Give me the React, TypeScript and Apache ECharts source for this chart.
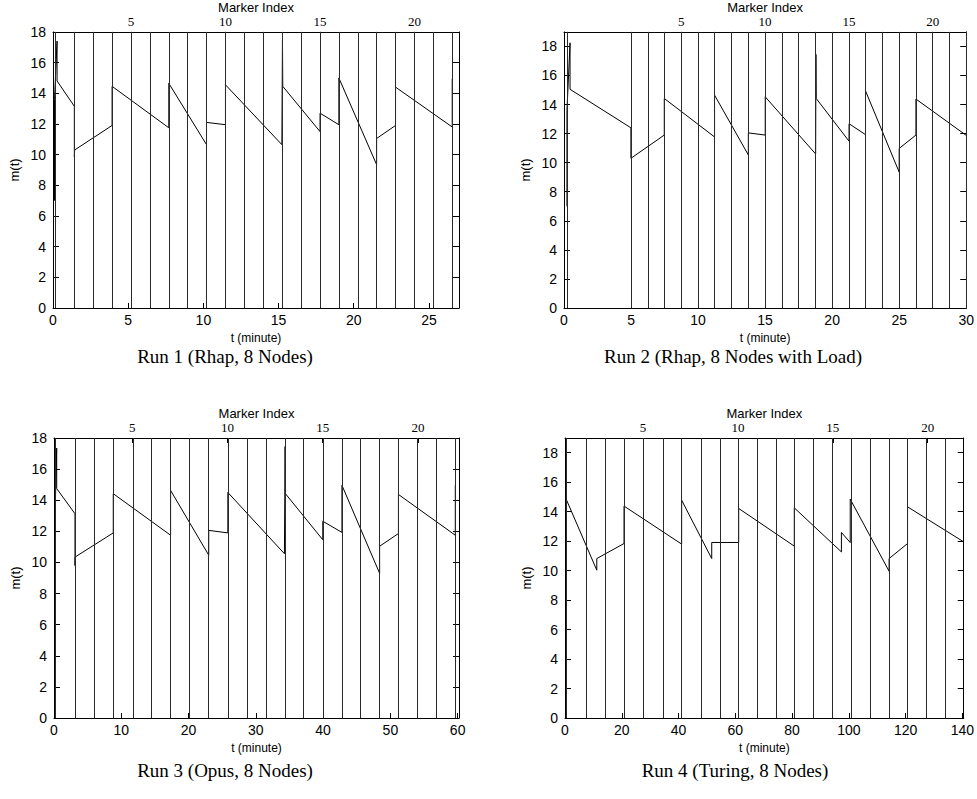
import React, { useEffect, useRef } from "react";
import * as echarts from "echarts";

// ---- Run 1 (Rhap, 8 Nodes)
const run1Time = [0.1, 0.1, 0.27, 0.27, 1.42, 1.42, 1.44, 3.93, 3.93, 7.7, 7.7, 10.21, 10.21, 11.47, 11.47, 15.22, 15.26, 15.28, 17.76, 17.76, 19.01, 19.01, 21.52, 21.52, 22.78, 22.78, 26.55, 26.55];
const run1M = [7.0, 13.6, 17.4, 14.8, 13.15, 9.85, 10.3, 11.9, 14.45, 11.75, 14.65, 10.65, 12.1, 11.95, 14.55, 10.65, 17.5, 14.45, 11.5, 12.7, 11.95, 15.0, 9.35, 11.05, 11.9, 14.4, 11.8, 14.95];
const run1Markers = [0.16, 1.42, 2.68, 3.93, 5.19, 6.44, 7.7, 8.96, 10.21, 11.47, 12.72, 13.98, 15.24, 16.5, 17.76, 19.01, 20.27, 21.52, 22.78, 24.04, 25.29, 26.55];

// ---- Run 2 (Rhap, 8 Nodes with Load)
const run2Time = [0.22, 0.22, 0.45, 0.45, 4.99, 4.99, 7.48, 7.48, 11.23, 11.23, 13.75, 13.75, 15.01, 15.01, 18.77, 18.79, 18.81, 21.26, 21.26, 22.49, 22.49, 25.0, 25.0, 26.25, 26.25, 30.0];
const run2M = [7.0, 13.6, 18.25, 15.05, 12.4, 10.3, 11.9, 14.42, 11.77, 14.65, 10.53, 12.05, 11.9, 14.53, 10.6, 17.45, 14.42, 11.48, 12.68, 11.93, 14.94, 9.35, 10.98, 11.9, 14.38, 11.88];
const run2Markers = [0.27, 4.99, 6.25, 7.48, 8.74, 10.0, 11.23, 12.49, 13.75, 15.01, 16.25, 17.5, 18.77, 20.0, 21.26, 22.49, 23.75, 25.0, 26.25, 27.5, 28.74, 30.0];

// ---- Run 3 (Opus, 8 Nodes)
const run3Time = [0.2, 0.2, 0.4, 0.4, 3.12, 3.12, 3.14, 8.81, 8.81, 17.33, 17.33, 23.0, 23.0, 25.84, 25.84, 34.25, 34.35, 34.4, 39.95, 39.95, 42.8, 42.8, 48.4, 48.4, 51.2, 51.2, 59.65, 59.65];
const run3M = [6.8, 13.8, 17.35, 14.75, 13.13, 9.8, 10.35, 11.9, 14.42, 11.75, 14.63, 10.47, 12.06, 11.9, 14.5, 10.56, 17.45, 14.42, 11.46, 12.65, 11.93, 14.96, 9.3, 11.04, 11.86, 14.37, 11.75, 14.96];
const run3Markers = [0.25, 3.12, 5.94, 8.81, 11.73, 14.5, 17.33, 20.1, 23.0, 25.84, 28.7, 31.5, 34.3, 37.1, 39.95, 42.8, 45.5, 48.4, 51.2, 54.0, 56.8, 59.65];

// ---- Run 4 (Turing, 8 Nodes)
const run4Time = [0.2, 0.2, 0.3, 11.2, 11.2, 20.8, 20.8, 41.1, 41.1, 51.7, 51.7, 61.2, 61.2, 80.8, 80.8, 97.4, 97.4, 100.5, 100.5, 114.2, 114.2, 120.7, 120.7, 140.5];
const run4M = [6.5, 18.3, 14.9, 10.03, 10.82, 11.84, 14.38, 11.8, 14.78, 10.82, 11.91, 11.91, 14.22, 11.66, 14.26, 11.27, 12.59, 11.91, 14.85, 9.96, 10.82, 11.84, 14.33, 11.95];
const run4Markers = [0.3, 7.4, 14.1, 20.8, 27.7, 34.5, 41.1, 48.0, 54.6, 61.2, 67.8, 74.4, 80.8, 87.4, 94.0, 100.7, 107.4, 114.1, 120.7, 127.4, 134.1];

// ---- tick labels
const run1XTicks = [0, 5, 10, 15, 20, 25];
const run2XTicks = [0, 5, 10, 15, 20, 25, 30];
const run3XTicks = [0, 10, 20, 30, 40, 50, 60];
const run4XTicks = [0, 20, 40, 60, 80, 100, 120, 140];
const markerTicks = [5, 10, 15, 20];
const yTicks = [0, 2, 4, 6, 8, 10, 12, 14, 16, 18];
const captions = [
  "Run 1 (Rhap, 8 Nodes)",
  "Run 2 (Rhap, 8 Nodes with Load)",
  "Run 3 (Opus, 8 Nodes)",
  "Run 4 (Turing, 8 Nodes)",
];

const runs = [
  { time: run1Time, m: run1M, markers: run1Markers, xTicks: run1XTicks, xMax: 27, yMax: 18, idx: [0.87, 22.36], grid: { left: 53, top: 29, width: 406, height: 279 }, cap: [225, 356] },
  { time: run2Time, m: run2M, markers: run2Markers, xTicks: run2XTicks, xMax: 30, yMax: 19, idx: [-2, 22], grid: { left: 564, top: 29, width: 406, height: 279 }, cap: [733, 356] },
  { time: run3Time, m: run3M, markers: run3Markers, xTicks: run3XTicks, xMax: 60.2, yMax: 18, idx: [0.9, 22.15], grid: { left: 54, top: 438, width: 405, height: 280 }, cap: [225, 770] },
  { time: run4Time, m: run4M, markers: run4Markers, xTicks: run4XTicks, xMax: 140.5, yMax: 19, idx: [0.89, 21.9], grid: { left: 565, top: 438, width: 405, height: 280 }, cap: [735, 770] },
];

const SANS = "Liberation Sans";
const SERIF = "Liberation Serif";

export default function App() {
  const ref = useRef<HTMLDivElement>(null);
  useEffect(() => {
    if (!ref.current) return;
    const chart = echarts.init(ref.current, null, { renderer: "svg" });
    const grids: any[] = [];
    const xAxes: any[] = [];
    const yAxes: any[] = [];
    const series: any[] = [];
    const graphics: any[] = [];
    const axisLine = { show: true, onZero: false, lineStyle: { color: "#000", width: 1 } };
    runs.forEach((r, i) => {
      grids.push({ ...r.grid, containLabel: false });
      xAxes.push({
        type: "value", gridIndex: i, position: "bottom", min: 0, max: r.xMax,
        axisLine, splitLine: { show: false },
        axisTick: { show: true, inside: true, length: 5, customValues: r.xTicks, lineStyle: { color: "#000" } },
        axisLabel: { customValues: r.xTicks, color: "#000", fontFamily: SANS, fontSize: 14, margin: 5 },
        name: "t (minute)", nameLocation: "middle", nameGap: 24,
        nameTextStyle: { color: "#000", fontFamily: SANS, fontSize: 12 },
      });
      xAxes.push({
        type: "value", gridIndex: i, position: "top", min: r.idx[0], max: r.idx[1],
        axisLine, splitLine: { show: false },
        axisTick: { show: true, inside: true, length: 5, customValues: markerTicks, lineStyle: { color: "#000" } },
        axisLabel: { customValues: markerTicks, color: "#000", fontFamily: SERIF, fontSize: 13, margin: 4 },
        name: "Marker Index", nameLocation: "middle", nameGap: 17,
        nameTextStyle: { color: "#000", fontFamily: SANS, fontSize: 13 },
      });
      yAxes.push({
        type: "value", gridIndex: i, position: "left", min: 0, max: r.yMax,
        axisLine, splitLine: { show: false },
        axisTick: { show: true, inside: true, length: 6, customValues: yTicks, lineStyle: { color: "#000" } },
        axisLabel: { customValues: yTicks, color: "#000", fontFamily: SANS, fontSize: 14, margin: 7 },
        name: "m(t)", nameLocation: "middle", nameGap: 32, nameRotate: 90,
        nameTextStyle: { color: "#000", fontFamily: SANS, fontSize: 13 },
      });
      yAxes.push({
        type: "value", gridIndex: i, position: "right", min: 0, max: r.yMax,
        axisLine, splitLine: { show: false },
        axisTick: { show: true, inside: true, length: 6, customValues: yTicks, lineStyle: { color: "#000" } },
        axisLabel: { show: false },
      });
      series.push({
        type: "line", xAxisIndex: 2 * i, yAxisIndex: 2 * i,
        data: r.time.map((t, k) => [t, r.m[k]]),
        showSymbol: false, symbol: "none",
        lineStyle: { color: "#000", width: 1 },
        markLine: {
          silent: true, symbol: ["none", "none"], label: { show: false },
          lineStyle: { color: "#2a2a2a", width: 1, type: "solid" },
          data: r.markers.map((t) => ({ xAxis: t })),
        },
      });
      graphics.push({
        type: "text", x: r.cap[0], y: r.cap[1],
        style: { text: captions[i], fill: "#000", font: `19px '${SERIF}'`, textAlign: "center", textVerticalAlign: "middle" },
      });
    });
    chart.setOption({
      animation: false,
      backgroundColor: "#fff",
      grid: grids,
      xAxis: xAxes,
      yAxis: yAxes,
      series,
      graphic: graphics,
    });
    return () => chart.dispose();
  }, []);
  return <div ref={ref} style={{ position: "absolute", left: 0, top: 0, width: 977, height: 799 }} />;
}
